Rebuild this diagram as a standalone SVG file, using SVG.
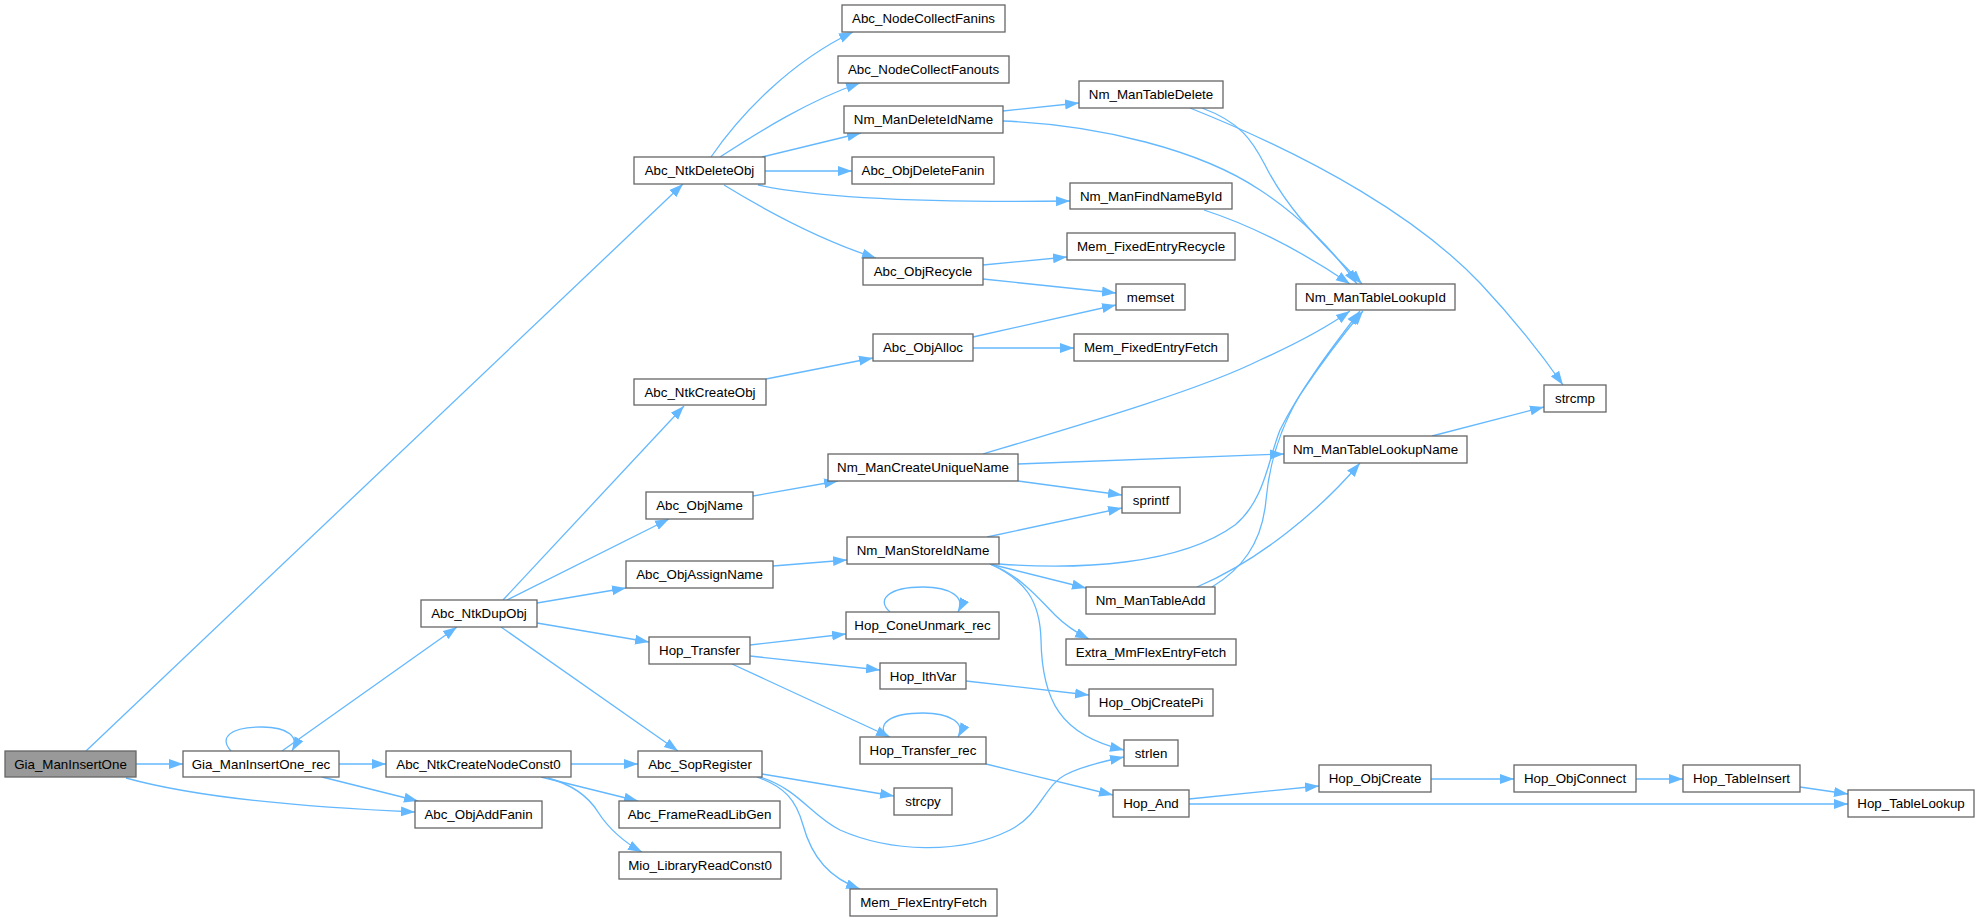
<svg xmlns="http://www.w3.org/2000/svg" width="1979" height="921" viewBox="0 0 1979 921">
<style>
.n rect{fill:#fff;stroke:#666;stroke-width:1.3}
.n.root rect{fill:#999}
.n text{font-family:"Liberation Sans",Arial,sans-serif;font-size:13.33px;text-anchor:middle;fill:#000}
.e path{fill:none;stroke:#63b8ff;stroke-width:1.3;marker-end:url(#ah)}
</style>
<defs>
<marker id="ah" markerUnits="userSpaceOnUse" markerWidth="15" markerHeight="11" refX="14" refY="5.5" orient="auto">
<path d="M0,0.5 L14,5.5 L0,10.5 z" fill="#63b8ff" stroke="none"/>
</marker>
</defs>
<rect width="1979" height="921" fill="#fff"/>
<g id="edges" class="e">
<path d="M86,751 L683,184"/>
<path d="M136,764 L183,764"/>
<path d="M126,778 C205,800 320,808 415,812"/>
<path d="M231,751 C219,738 229,727 262,727 C288,727 300,737 292,751"/>
<path d="M282,751 L457,627"/>
<path d="M339,764 L386,764"/>
<path d="M322,777 L418,801"/>
<path d="M503,600 L684,406"/>
<path d="M507,600 L669,519"/>
<path d="M537,603 L626,588"/>
<path d="M537,623 L649,642"/>
<path d="M501,627 L678,751"/>
<path d="M571,764 L638,764"/>
<path d="M541,777 L638,801"/>
<path d="M548,778 C570,784 588,796 598,812 C608,828 625,843 642,852"/>
<path d="M762,774 L894,796"/>
<path d="M760,777 C800,790 810,815 840,830 C890,852 960,855 1010,830 C1040,815 1045,785 1065,775 C1080,767 1100,762 1124,757"/>
<path d="M757,777 C785,787 796,800 803,825 C812,858 830,878 860,889"/>
<path d="M750,645 L846,634"/>
<path d="M750,656 L880,670"/>
<path d="M732,664 L890,737"/>
<path d="M890,612 C876,600 888,587 923,587 C950,587 966,597 958,612"/>
<path d="M887,737 C876,724 890,713 923,713 C950,713 966,723 958,737"/>
<path d="M986,764 L1113,795"/>
<path d="M966,681 L1089,695"/>
<path d="M1189,799 L1319,786"/>
<path d="M1189,804 L1848,804"/>
<path d="M1431,779 L1514,779"/>
<path d="M1636,779 L1683,779"/>
<path d="M1800,787 L1848,794"/>
<path d="M711,157 C740,115 790,62 853,32"/>
<path d="M720,157 C760,131 810,100 860,83"/>
<path d="M762,157 L861,133"/>
<path d="M765,171 L852,171"/>
<path d="M758,185 C820,198 920,203 1070,201"/>
<path d="M724,185 C760,207 820,240 876,258"/>
<path d="M1003,111 L1079,103"/>
<path d="M1003,121 C1100,125 1200,150 1260,190 C1300,216 1335,252 1357,284"/>
<path d="M1202,108 C1240,122 1252,140 1265,165 C1290,215 1330,250 1362,284"/>
<path d="M1190,108 C1320,160 1420,220 1480,283 C1510,315 1540,352 1563,385"/>
<path d="M1204,210 C1250,225 1300,250 1350,284"/>
<path d="M983,265 L1067,257"/>
<path d="M983,279 L1116,293"/>
<path d="M973,337 L1116,305"/>
<path d="M973,348 L1074,348"/>
<path d="M766,379 L873,358"/>
<path d="M753,496 L838,481"/>
<path d="M773,566 L847,560"/>
<path d="M983,454 C1080,425 1200,390 1260,360 C1300,342 1330,325 1350,311"/>
<path d="M1018,464 L1284,454"/>
<path d="M1018,481 L1122,495"/>
<path d="M987,537 L1122,508"/>
<path d="M999,564 C1080,570 1180,565 1235,525 C1265,500 1268,460 1280,430 C1300,390 1330,350 1360,311"/>
<path d="M1212,587 C1240,570 1262,545 1266,500 C1270,455 1285,420 1300,395 C1320,365 1340,338 1363,311"/>
<path d="M990,564 L1086,588"/>
<path d="M990,564 C1020,575 1040,600 1055,615 C1065,625 1077,633 1089,639"/>
<path d="M990,564 C1025,580 1040,600 1041,640 C1042,700 1060,735 1124,750"/>
<path d="M1197,587 C1260,560 1320,510 1360,463"/>
<path d="M1432,436 L1544,407"/>
</g>
<g id="n_Gia_ManInsertOne" class="n root"><rect x="5" y="751" width="131" height="26"/><text x="70.5" y="768.5">Gia_ManInsertOne</text></g>
<g id="n_Gia_ManInsertOne_rec" class="n"><rect x="183" y="751" width="156" height="26"/><text x="261" y="768.5">Gia_ManInsertOne_rec</text></g>
<g id="n_Abc_NtkDeleteObj" class="n"><rect x="634" y="157" width="131" height="27"/><text x="699.5" y="175">Abc_NtkDeleteObj</text></g>
<g id="n_Abc_NodeCollectFanins" class="n"><rect x="842" y="5" width="163" height="27"/><text x="923.5" y="23">Abc_NodeCollectFanins</text></g>
<g id="n_Abc_NodeCollectFanouts" class="n"><rect x="838" y="56" width="171" height="27"/><text x="923.5" y="74">Abc_NodeCollectFanouts</text></g>
<g id="n_Nm_ManDeleteIdName" class="n"><rect x="844" y="106" width="159" height="27"/><text x="923.5" y="124">Nm_ManDeleteIdName</text></g>
<g id="n_Abc_ObjDeleteFanin" class="n"><rect x="852" y="157" width="142" height="27"/><text x="923" y="175">Abc_ObjDeleteFanin</text></g>
<g id="n_Nm_ManFindNameById" class="n"><rect x="1070" y="183" width="162" height="26"/><text x="1151" y="200.5">Nm_ManFindNameById</text></g>
<g id="n_Abc_ObjRecycle" class="n"><rect x="863" y="258" width="120" height="27"/><text x="923" y="276">Abc_ObjRecycle</text></g>
<g id="n_Nm_ManTableDelete" class="n"><rect x="1079" y="81" width="144" height="27"/><text x="1151" y="99">Nm_ManTableDelete</text></g>
<g id="n_Mem_FixedEntryRecycle" class="n"><rect x="1067" y="233" width="168" height="27"/><text x="1151" y="251">Mem_FixedEntryRecycle</text></g>
<g id="n_memset" class="n"><rect x="1116" y="284" width="69" height="26"/><text x="1150.5" y="301.5">memset</text></g>
<g id="n_Nm_ManTableLookupId" class="n"><rect x="1296" y="284" width="159" height="26"/><text x="1375.5" y="301.5">Nm_ManTableLookupId</text></g>
<g id="n_Mem_FixedEntryFetch" class="n"><rect x="1074" y="334" width="154" height="27"/><text x="1151" y="352">Mem_FixedEntryFetch</text></g>
<g id="n_Abc_ObjAlloc" class="n"><rect x="873" y="334" width="100" height="27"/><text x="923" y="352">Abc_ObjAlloc</text></g>
<g id="n_Abc_NtkCreateObj" class="n"><rect x="634" y="379" width="132" height="26"/><text x="700" y="396.5">Abc_NtkCreateObj</text></g>
<g id="n_Nm_ManCreateUniqueName" class="n"><rect x="828" y="454" width="190" height="27"/><text x="923" y="472">Nm_ManCreateUniqueName</text></g>
<g id="n_Nm_ManTableLookupName" class="n"><rect x="1284" y="436" width="183" height="27"/><text x="1375.5" y="454">Nm_ManTableLookupName</text></g>
<g id="n_strcmp" class="n"><rect x="1544" y="385" width="62" height="27"/><text x="1575" y="403">strcmp</text></g>
<g id="n_sprintf" class="n"><rect x="1122" y="487" width="58" height="26"/><text x="1151" y="504.5">sprintf</text></g>
<g id="n_Abc_ObjName" class="n"><rect x="646" y="492" width="107" height="27"/><text x="699.5" y="510">Abc_ObjName</text></g>
<g id="n_Nm_ManStoreIdName" class="n"><rect x="847" y="537" width="152" height="27"/><text x="923" y="555">Nm_ManStoreIdName</text></g>
<g id="n_Abc_ObjAssignName" class="n"><rect x="626" y="561" width="147" height="27"/><text x="699.5" y="579">Abc_ObjAssignName</text></g>
<g id="n_Nm_ManTableAdd" class="n"><rect x="1086" y="587" width="129" height="27"/><text x="1150.5" y="605">Nm_ManTableAdd</text></g>
<g id="n_Abc_NtkDupObj" class="n"><rect x="421" y="600" width="116" height="27"/><text x="479" y="618">Abc_NtkDupObj</text></g>
<g id="n_Hop_ConeUnmark_rec" class="n"><rect x="846" y="612" width="153" height="27"/><text x="922.5" y="630">Hop_ConeUnmark_rec</text></g>
<g id="n_Hop_Transfer" class="n"><rect x="649" y="637" width="101" height="27"/><text x="699.5" y="655">Hop_Transfer</text></g>
<g id="n_Extra_MmFlexEntryFetch" class="n"><rect x="1066" y="639" width="170" height="26"/><text x="1151" y="656.5">Extra_MmFlexEntryFetch</text></g>
<g id="n_Hop_IthVar" class="n"><rect x="880" y="663" width="86" height="26"/><text x="923" y="680.5">Hop_IthVar</text></g>
<g id="n_Hop_ObjCreatePi" class="n"><rect x="1089" y="689" width="124" height="27"/><text x="1151" y="707">Hop_ObjCreatePi</text></g>
<g id="n_Hop_Transfer_rec" class="n"><rect x="860" y="737" width="126" height="27"/><text x="923" y="755">Hop_Transfer_rec</text></g>
<g id="n_strlen" class="n"><rect x="1124" y="740" width="54" height="26"/><text x="1151" y="757.5">strlen</text></g>
<g id="n_Abc_NtkCreateNodeConst0" class="n"><rect x="386" y="751" width="185" height="26"/><text x="478.5" y="768.5">Abc_NtkCreateNodeConst0</text></g>
<g id="n_Abc_SopRegister" class="n"><rect x="638" y="751" width="124" height="26"/><text x="700" y="768.5">Abc_SopRegister</text></g>
<g id="n_Hop_ObjCreate" class="n"><rect x="1319" y="765" width="112" height="27"/><text x="1375" y="783">Hop_ObjCreate</text></g>
<g id="n_Hop_ObjConnect" class="n"><rect x="1514" y="765" width="122" height="27"/><text x="1575" y="783">Hop_ObjConnect</text></g>
<g id="n_Hop_TableInsert" class="n"><rect x="1683" y="765" width="117" height="27"/><text x="1741.5" y="783">Hop_TableInsert</text></g>
<g id="n_strcpy" class="n"><rect x="894" y="788" width="58" height="27"/><text x="923" y="806">strcpy</text></g>
<g id="n_Hop_And" class="n"><rect x="1113" y="790" width="76" height="27"/><text x="1151" y="808">Hop_And</text></g>
<g id="n_Hop_TableLookup" class="n"><rect x="1848" y="790" width="126" height="27"/><text x="1911" y="808">Hop_TableLookup</text></g>
<g id="n_Abc_ObjAddFanin" class="n"><rect x="415" y="801" width="127" height="27"/><text x="478.5" y="819">Abc_ObjAddFanin</text></g>
<g id="n_Abc_FrameReadLibGen" class="n"><rect x="619" y="801" width="161" height="27"/><text x="699.5" y="819">Abc_FrameReadLibGen</text></g>
<g id="n_Mio_LibraryReadConst0" class="n"><rect x="619" y="852" width="162" height="27"/><text x="700" y="870">Mio_LibraryReadConst0</text></g>
<g id="n_Mem_FlexEntryFetch" class="n"><rect x="850" y="889" width="147" height="27"/><text x="923.5" y="907">Mem_FlexEntryFetch</text></g>
</svg>
